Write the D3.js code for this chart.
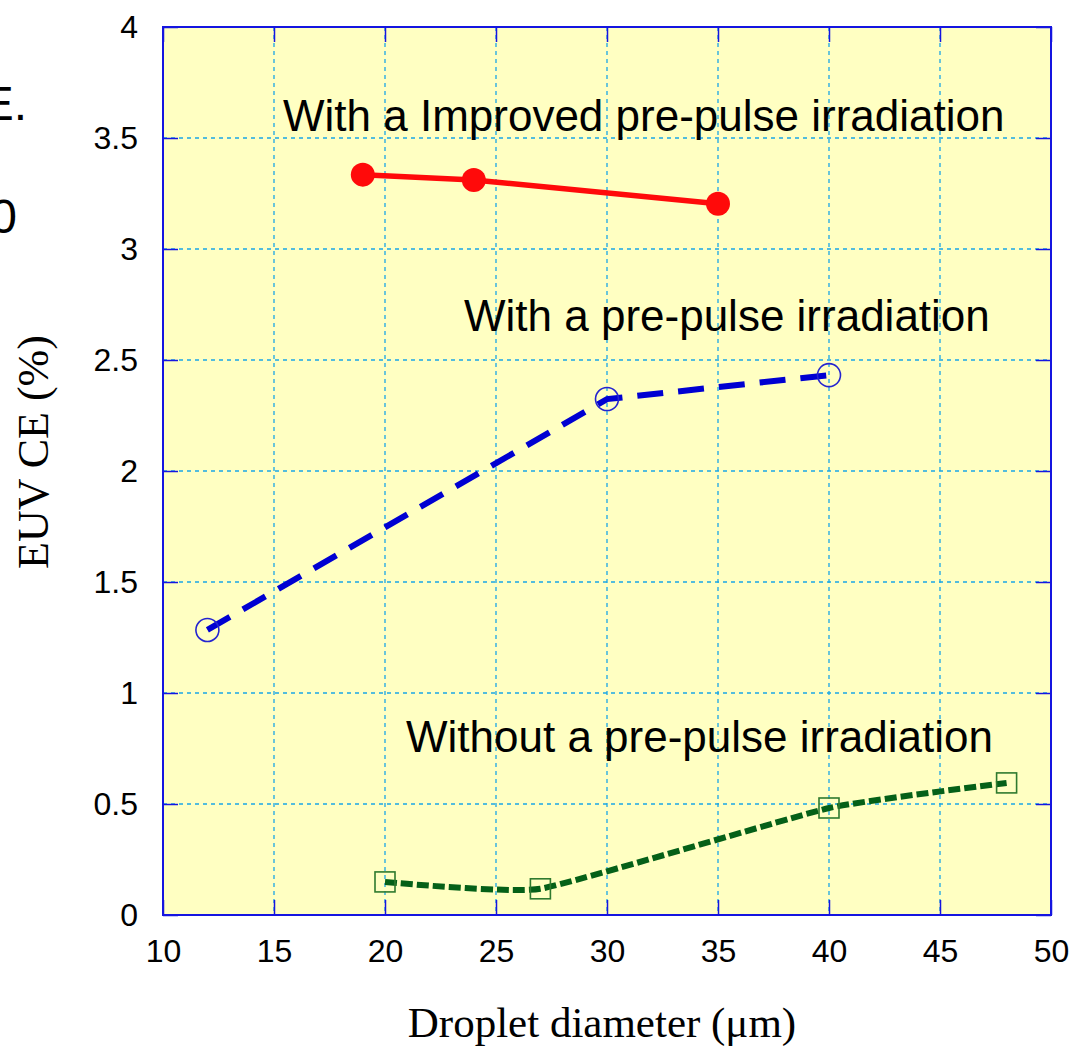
<!DOCTYPE html>
<html>
<head>
<meta charset="utf-8">
<script src="https://d3js.org/d3.v7.min.js"></script>
<style>
  html, body { margin: 0; padding: 0; background: #ffffff; }
  svg { display: block; }
</style>
</head>
<body>
<div id="chart"></div>
<script>
// ---- Data ----
const xTicks = [10, 15, 20, 25, 30, 35, 40, 45, 50];
const yTicks = [0, 0.5, 1, 1.5, 2, 2.5, 3, 3.5, 4];
const yTickLabels = ["0", "0.5", "1", "1.5", "2", "2.5", "3", "3.5", "4"];

const improvedX = [19, 24, 35];
const improvedY = [3.335, 3.311, 3.204];

const prePulseX = [12, 30, 40];
const prePulseY = [1.284, 2.324, 2.432];

const withoutX = [20, 27, 40, 48];
const withoutY = [0.149, 0.118, 0.482, 0.595];

const labelImproved = "With a Improved pre-pulse irradiation";
const labelPrePulse = "With a pre-pulse irradiation";
const labelWithout = "Without a pre-pulse irradiation";
const xTitle = "Droplet diameter (\u03BCm)";
const yTitle = "EUV CE (%)";

// ---- Layout ----
const W = 1074, H = 1046;
const L = 163, R = 1051, T = 27, B = 915;
const sans = "'Liberation Sans', Arial, Helvetica, sans-serif";
const serif = "'Liberation Serif', 'Times New Roman', serif";

const svg = d3.select("#chart").append("svg")
  .attr("width", W).attr("height", H);

const x = d3.scaleLinear().domain([10, 50]).range([L, R]);
const y = d3.scaleLinear().domain([0, 4]).range([B, T]);

// plot background
svg.append("rect").attr("x", L).attr("y", T)
  .attr("width", R - L).attr("height", B - T)
  .attr("fill", "#ffffc2");

// grid
const gridColor = "#1aa6e6";
svg.append("g").selectAll("line").data(xTicks.slice(1, -1)).join("line")
  .attr("x1", d => x(d)).attr("x2", d => x(d))
  .attr("y1", T).attr("y2", B)
  .attr("stroke", gridColor).attr("stroke-width", 1.3)
  .attr("stroke-dasharray", "4,4");
svg.append("g").selectAll("line").data(yTicks.slice(1, -1)).join("line")
  .attr("y1", d => y(d)).attr("y2", d => y(d))
  .attr("x1", L).attr("x2", R)
  .attr("stroke", gridColor).attr("stroke-width", 1.3)
  .attr("stroke-dasharray", "4,4");

// axes with inner ticks
const tickLen = 15;
const axisColor = "#1515e0";
function styleAxis(g) {
  g.select(".domain").remove();
  g.selectAll(".tick line").attr("stroke", axisColor).attr("stroke-width", 1.5);
}
const xAxisB = svg.append("g").attr("transform", `translate(0,${B})`)
  .call(d3.axisBottom(x).tickValues(xTicks).tickSize(-tickLen).tickPadding(24).tickFormat(d3.format("d")));
styleAxis(xAxisB);
xAxisB.attr("font-size", null);
xAxisB.selectAll("text").attr("font-family", sans).attr("font-size", 32).attr("fill", "#000");

const xAxisT = svg.append("g").attr("transform", `translate(0,${T})`)
  .call(d3.axisTop(x).tickValues(xTicks).tickSize(-tickLen).tickFormat(""));
styleAxis(xAxisT);

const yAxisL = svg.append("g").attr("transform", `translate(${L},0)`)
  .call(d3.axisLeft(y).tickValues(yTicks).tickSize(-tickLen).tickPadding(25)
    .tickFormat((d, i) => yTickLabels[i]));
styleAxis(yAxisL);
yAxisL.attr("font-size", null);
yAxisL.selectAll("text").attr("font-family", sans).attr("font-size", 32).attr("fill", "#000");

const yAxisR = svg.append("g").attr("transform", `translate(${R},0)`)
  .call(d3.axisRight(y).tickValues(yTicks).tickSize(-tickLen).tickFormat(""));
styleAxis(yAxisR);

// frame
svg.append("rect").attr("x", L).attr("y", T)
  .attr("width", R - L).attr("height", B - T)
  .attr("fill", "none").attr("stroke", axisColor).attr("stroke-width", 2);

// ---- Series ----
// Without pre-pulse (green, dotted, smooth)
const withoutData = withoutX.map((v, i) => [v, withoutY[i]]);
svg.append("path").datum(withoutData)
  .attr("d", d3.line().x(d => x(d[0])).y(d => y(d[1])).curve(d3.curveCardinal.tension(0.6)))
  .attr("fill", "none").attr("stroke", "#056018").attr("stroke-width", 6)
  .attr("stroke-dasharray", "12,4");
svg.append("g").selectAll("rect").data(withoutData).join("rect")
  .attr("x", d => x(d[0]) - 10).attr("y", d => y(d[1]) - 10)
  .attr("width", 20).attr("height", 20)
  .attr("fill", "none").attr("stroke", "#2f7a2f").attr("stroke-width", 1.6);

// With pre-pulse (blue, dashed)
const preData = prePulseX.map((v, i) => [v, prePulseY[i]]);
svg.append("path").datum(preData)
  .attr("d", d3.line().x(d => x(d[0])).y(d => y(d[1])))
  .attr("fill", "none").attr("stroke", "#0000d2").attr("stroke-width", 6)
  .attr("stroke-dasharray", "26,15");
svg.append("g").selectAll("circle").data(preData).join("circle")
  .attr("cx", d => x(d[0])).attr("cy", d => y(d[1])).attr("r", 11.5)
  .attr("fill", "none").attr("stroke", "#2424d0").attr("stroke-width", 1.6);

// Improved pre-pulse (red, solid)
const impData = improvedX.map((v, i) => [v, improvedY[i]]);
svg.append("path").datum(impData)
  .attr("d", d3.line().x(d => x(d[0])).y(d => y(d[1])))
  .attr("fill", "none").attr("stroke", "#ff0a0a").attr("stroke-width", 5.5);
svg.append("g").selectAll("circle").data(impData).join("circle")
  .attr("cx", d => x(d[0])).attr("cy", d => y(d[1])).attr("r", 12)
  .attr("fill", "#ff0a0a");

// ---- Annotations ----
function ann(txt, xp, yp) {
  svg.append("text").attr("x", xp).attr("y", yp)
    .attr("font-family", sans).attr("font-size", 44).attr("fill", "#000")
    .text(txt);
}
ann(labelImproved, 283, 131);
ann(labelPrePulse, 464, 331);
ann(labelWithout, 406, 752);

// axis titles
svg.append("text").attr("x", 602).attr("y", 1037)
  .attr("text-anchor", "middle").attr("font-family", serif).attr("font-size", 43)
  .attr("fill", "#000").text(xTitle);
svg.append("text")
  .attr("transform", "translate(48,452) rotate(-90)")
  .attr("text-anchor", "middle").attr("font-family", serif).attr("font-size", 44)
  .attr("fill", "#000").text(yTitle);

// cut-off text fragments at the left edge (as in the reference)
svg.append("text").attr("x", 27).attr("y", 120).attr("text-anchor", "end")
  .attr("font-family", sans).attr("font-size", 48).attr("fill", "#000").text("E.");
svg.append("text").attr("x", 17).attr("y", 233).attr("text-anchor", "end")
  .attr("font-family", sans).attr("font-size", 48).attr("fill", "#000").text("0");
</script>
</body>
</html>
